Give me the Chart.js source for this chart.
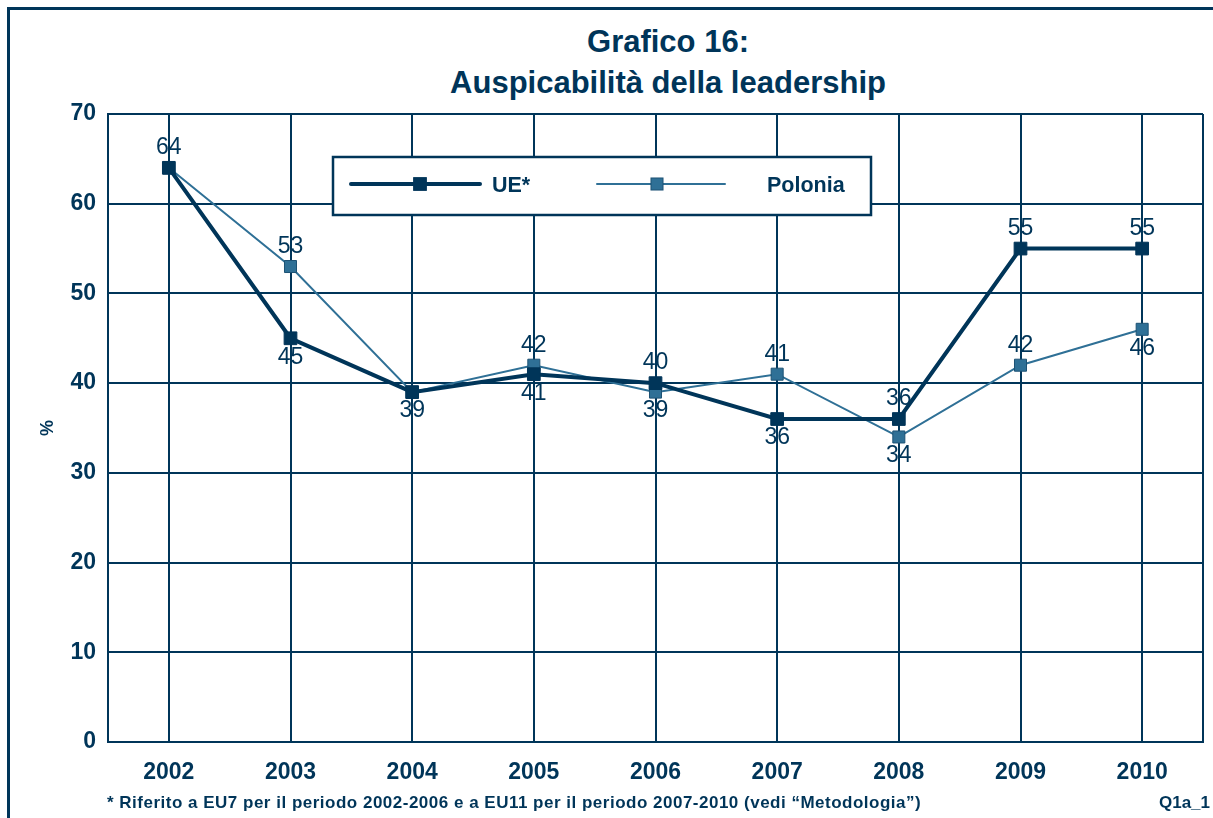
<!DOCTYPE html>
<html>
<head>
<meta charset="utf-8">
<script src="https://cdn.jsdelivr.net/npm/chart.js"></script>
<style>
  html, body { margin: 0; padding: 0; background: #fff; }
  body { width: 1213px; height: 818px; position: relative; overflow: hidden;
         font-family: 'Liberation Sans', Arial, sans-serif; color: #003559; }
  #frame { position: absolute; left: 7px; top: 7px; width: 1300px; height: 900px;
           border: 3px solid #003559; box-sizing: border-box; }
  #title { position: absolute; left: 368px; width: 600px; top: 21px; text-align: center;
           font-weight: bold; font-size: 31px; line-height: 41px; }
  #note { position: absolute; left: 107px; top: 793px; font-weight: bold; font-size: 17px;
          letter-spacing: 0.5px; }
  #code { position: absolute; right: 3px; top: 793px; font-weight: bold; font-size: 17px; }
  #wrap { position: absolute; left: 0; top: 0; width: 1213px; height: 818px; }
</style>
</head>
<body>
<div id="frame"></div>
<div id="title">Grafico 16:<br>Auspicabilità della leadership</div>
<div id="wrap"><canvas id="myChart" width="1213" height="818"></canvas></div>
<div id="note">* Riferito a EU7 per il periodo 2002-2006 e a EU11 per il periodo 2007-2010 (vedi “Metodologia”)</div>
<div id="code">Q1a_1</div>
<script>
// dati
const anni = ['2002', '2003', '2004', '2005', '2006', '2007', '2008', '2009', '2010'];
const ue = [64, 45, 39, 41, 40, 36, 36, 55, 55];
const polonia = [64, 53, 39, 42, 39, 41, 34, 42, 46];
// dove mettere l'etichetta del valore (sopra / sotto / niente)
const posUe = ['top', 'bottom', 'bottom', 'bottom', 'top', 'bottom', 'top', 'top', 'top'];
const posPolonia = [null, 'top', null, 'top', 'bottom', 'top', 'bottom', 'top', 'bottom'];

const blu = '#003559';
const azzurro = '#2f7096';

// etichette dei valori sui punti
const etichette = {
  id: 'etichette',
  afterDatasetsDraw(chart) {
    const ctx = chart.ctx;
    ctx.save();
    ctx.font = '23px "Liberation Sans", Arial, sans-serif';
    ctx.fillStyle = blu;
    ctx.textAlign = 'center';
    ctx.textBaseline = 'middle';
    chart.data.datasets.forEach(function(ds, i) {
      const meta = chart.getDatasetMeta(i);
      meta.data.forEach(function(pt, j) {
        const pos = ds.posizioni[j];
        if (!pos) return;
        const y = pos === 'top' ? pt.y - 20 : pt.y + 19;
        ctx.fillText(ds.data[j], pt.x, y);
      });
    });
    ctx.restore();
  }
};

// bordo destro dell'area del grafico + legenda nel riquadro
const cornice = {
  id: 'cornice',
  beforeDatasetsDraw(chart) {
    const a = chart.chartArea;
    const ctx = chart.ctx;
    ctx.save();
    ctx.strokeStyle = blu;
    ctx.lineWidth = 2;
    ctx.beginPath();
    ctx.moveTo(a.right, a.top);
    ctx.lineTo(a.right, a.bottom);
    ctx.stroke();
    ctx.restore();
  },
  afterDraw(chart) {
    const ctx = chart.ctx;
    const ds = chart.data.datasets;
    ctx.save();
    ctx.fillStyle = '#fff';
    ctx.fillRect(333, 157, 538, 58);
    ctx.strokeStyle = blu;
    ctx.lineWidth = 2.5;
    ctx.strokeRect(333, 157, 538, 58);

    const voci = [
      { x0: 351, x1: 480, mx: 420, tx: 492 },
      { x0: 597, x1: 725, mx: 657, tx: 767 }
    ];
    voci.forEach(function(v, i) {
      const d = ds[i];
      const y = 184;
      ctx.strokeStyle = d.borderColor;
      ctx.lineWidth = d.borderWidth;
      ctx.lineCap = 'round';
      ctx.beginPath();
      ctx.moveTo(v.x0, y);
      ctx.lineTo(v.x1, y);
      ctx.stroke();
      const s = d.pointRadius * Math.SQRT1_2;
      ctx.fillStyle = d.pointBackgroundColor;
      ctx.fillRect(v.mx - s, y - s, 2 * s, 2 * s);
      ctx.lineWidth = 1;
      ctx.strokeStyle = d.pointBorderColor;
      ctx.strokeRect(v.mx - s, y - s, 2 * s, 2 * s);
      ctx.fillStyle = blu;
      ctx.font = 'bold 21.5px "Liberation Sans", Arial, sans-serif';
      ctx.textAlign = 'left';
      ctx.textBaseline = 'middle';
      ctx.fillText(d.label, v.tx, y + 2);
    });
    ctx.restore();
  }
};

const ctx = document.getElementById('myChart').getContext('2d');
const myChart = new Chart(ctx, {
  type: 'line',
  data: {
    labels: anni,
    datasets: [
      {
        label: 'UE*',
        data: ue,
        posizioni: posUe,
        borderColor: blu,
        borderWidth: 4,
        pointStyle: 'rect',
        pointRadius: 9,
        pointBackgroundColor: blu,
        pointBorderColor: blu,
        pointBorderWidth: 1,
        tension: 0,
        order: 1
      },
      {
        label: 'Polonia',
        data: polonia,
        posizioni: posPolonia,
        borderColor: azzurro,
        borderWidth: 2,
        pointStyle: 'rect',
        pointRadius: 8.5,
        pointBackgroundColor: azzurro,
        pointBorderColor: '#1d5274',
        pointBorderWidth: 1,
        tension: 0,
        order: 2
      }
    ]
  },
  options: {
    responsive: false,
    animation: false,
    layout: { padding: { top: 114, right: 10, left: 0, bottom: 0 } },
    plugins: {
      legend: { display: false },
      tooltip: { enabled: false }
    },
    scales: {
      x: {
        offset: true,
        afterFit(scale) { scale.height = 76; },
        grid: { offset: false, color: blu, lineWidth: 2, drawTicks: false },
        border: { color: blu, width: 2 },
        ticks: {
          color: blu,
          padding: 17,
          font: { family: '"Liberation Sans", Arial, sans-serif', size: 23, weight: 'bold' }
        }
      },
      y: {
        min: 0,
        max: 70,
        afterFit(scale) { scale.width = 108; },
        grid: { color: blu, lineWidth: 2, drawTicks: false },
        border: { color: blu, width: 2 },
        ticks: {
          stepSize: 10,
          color: blu,
          padding: 12,
          font: { family: '"Liberation Sans", Arial, sans-serif', size: 23, weight: 'bold' }
        },
        title: {
          display: true,
          text: '%',
          color: blu,
          padding: { top: 37, bottom: 0 },
          font: { family: '"Liberation Sans", Arial, sans-serif', size: 18, weight: 'bold' }
        }
      }
    }
  },
  plugins: [etichette, cornice]
});
</script>
</body>
</html>
